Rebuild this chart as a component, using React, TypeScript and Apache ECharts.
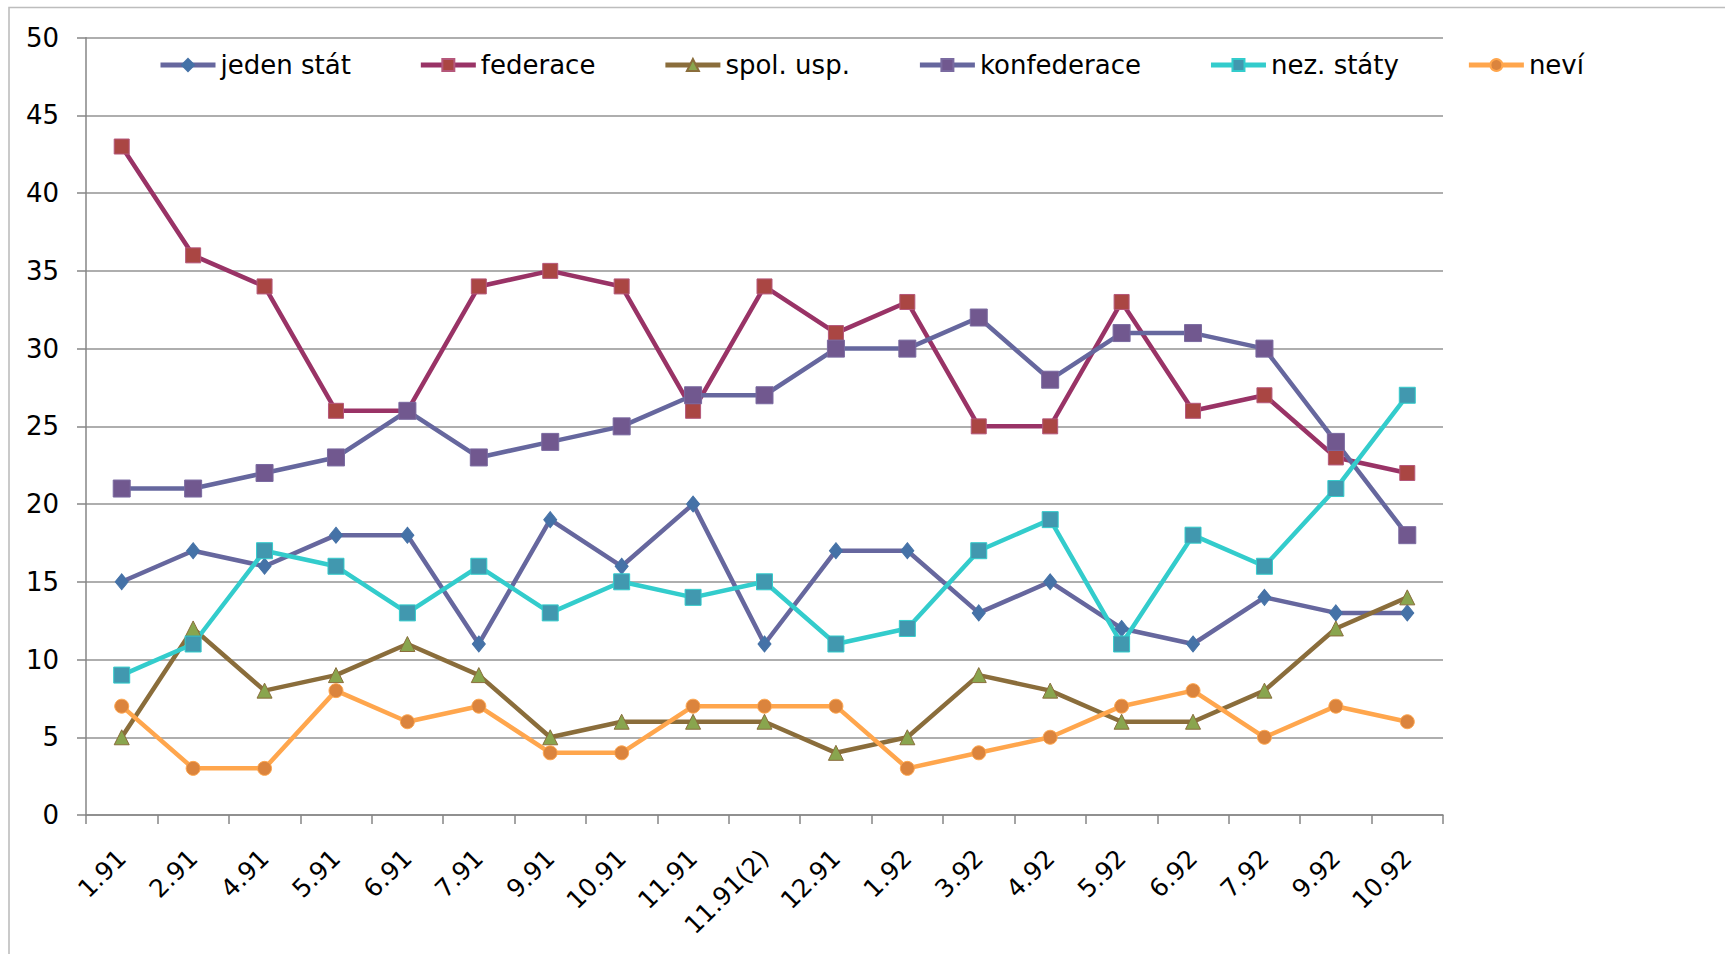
import React, { useEffect, useRef } from "react";
import * as echarts from "echarts";

const categories = ["1.91", "2.91", "4.91", "5.91", "6.91", "7.91", "9.91", "10.91", "11.91", "11.91(2)", "12.91", "1.92", "3.92", "4.92", "5.92", "6.92", "7.92", "9.92", "10.92"];
const jedenStat = [15, 17, 16, 18, 18, 11, 19, 16, 20, 11, 17, 17, 13, 15, 12, 11, 14, 13, 13];
const federace = [43, 36, 34, 26, 26, 34, 35, 34, 26, 34, 31, 33, 25, 25, 33, 26, 27, 23, 22];
const spolUsp = [5, 12, 8, 9, 11, 9, 5, 6, 6, 6, 4, 5, 9, 8, 6, 6, 8, 12, 14];
const konfederace = [21, 21, 22, 23, 26, 23, 24, 25, 27, 27, 30, 30, 32, 28, 31, 31, 30, 24, 18];
const nezStaty = [9, 11, 17, 16, 13, 16, 13, 15, 14, 15, 11, 12, 17, 19, 11, 18, 16, 21, 27];
const nevi = [7, 3, 3, 8, 6, 7, 4, 4, 7, 7, 7, 3, 4, 5, 7, 8, 5, 7, 6];

const FONT = "DejaVu Sans";

export default function App() {
  const ref = useRef<HTMLDivElement>(null);
  useEffect(() => {
    if (!ref.current) return;
    const chart = echarts.init(ref.current, null, { renderer: "svg" });
    const mk = (name: string, data: number[], lineColor: string, symbol: string, size: any, fill: string, border: string) => ({
      name,
      type: "line",
      data,
      symbol,
      symbolSize: size,
      showAllSymbol: true,
      lineStyle: { color: lineColor, width: 4.5 },
      itemStyle: { color: fill, borderColor: border, borderWidth: 1 },
      emphasis: { disabled: true },
    });
    chart.setOption({
      animation: false,
      backgroundColor: "#ffffff",
      textStyle: { fontFamily: FONT },
      graphic: [
        {
          type: "rect",
          shape: { x: 9, y: 7.5, width: 1800, height: 1000 },
          style: { fill: "none", stroke: "#BDBDBD", lineWidth: 1.6 },
          silent: true,
        },
      ],
      legend: {
        left: 153,
        top: 47,
        itemGap: 67.5,
        itemWidth: 55,
        itemHeight: 15,
        lineStyle: { width: 5 },
        textStyle: { fontSize: 26, fontFamily: FONT, color: "#000" },
        data: ["jeden stát", "federace", "spol. usp.", "konfederace", "nez. státy", "neví"],
      },
      grid: { left: 86, right: 282, top: 37.7, bottom: 139, containLabel: false },
      xAxis: {
        type: "category",
        data: categories,
        boundaryGap: true,
        axisLine: { lineStyle: { color: "#868686", width: 1.5 } },
        axisTick: { show: true, length: 9, lineStyle: { color: "#868686", width: 1.5 } },
        axisLabel: { rotate: 45, fontSize: 25, fontFamily: FONT, color: "#000", margin: 39, interval: 0 },
        splitLine: { show: false },
      },
      yAxis: {
        type: "value",
        min: 0,
        max: 50,
        interval: 5,
        axisLine: { show: true, lineStyle: { color: "#868686", width: 1.5 } },
        axisTick: { show: true, length: 9, lineStyle: { color: "#868686", width: 1.5 } },
        axisLabel: { fontSize: 26, fontFamily: FONT, color: "#000", margin: 27 },
        splitLine: { show: true, lineStyle: { color: "#939393", width: 1.5 } },
      },
      series: [
        mk("jeden stát", jedenStat, "#66679E", "diamond", [13, 16], "#4572A7", "#4572A7"),
        mk("federace", federace, "#993366", "rect", 15, "#AA4643", "#B5577A"),
        mk("spol. usp.", spolUsp, "#8A6D3B", "triangle", 15, "#89A54E", "#8A6D3B"),
        mk("konfederace", konfederace, "#66679E", "rect", 17, "#71588F", "#7A6AA0"),
        mk("nez. státy", nezStaty, "#33CCCC", "rect", 16, "#4198AF", "#33CCCC"),
        mk("neví", nevi, "#FFA64D", "circle", 14, "#DB843D", "#FFA64D"),
      ],
    });
    return () => chart.dispose();
  }, []);
  return <div ref={ref} style={{ position: "fixed", left: 0, top: 0, width: 1725, height: 954 }} />;
}
